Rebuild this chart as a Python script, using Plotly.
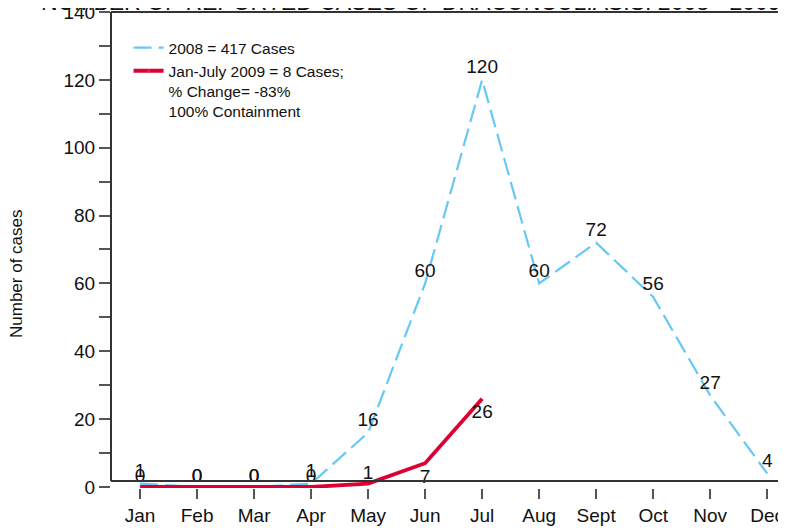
import plotly.graph_objects as go

months = ["Jan", "Feb", "Mar", "Apr", "May", "Jun", "Jul", "Aug", "Sept", "Oct", "Nov", "Dec"]
cases_2008 = [1, 0, 0, 1, 16, 60, 120, 60, 72, 56, 27, 4]
months_2009 = ["Jan", "Feb", "Mar", "Apr", "May", "Jun", "Jul"]
cases_2009 = [0, 0, 0, 0, 1, 7, 26]
pos_2009 = ["top center"] * 5 + ["bottom center"] * 2

name_2008 = "2008 = 417 Cases"
name_2009 = "Jan-July 2009 = 8 Cases;<br>% Change= -83%<br>100% Containment"
title = "NUMBER OF REPORTED CASES OF DRACUNCULIASIS: 2008 - 2009"

FONT = "Arial, Liberation Sans, sans-serif"
BLUE = "#66c8f5"
RED = "#dc0034"
AXIS = "#333333"

x08 = list(range(len(months)))
x09 = list(range(len(months_2009)))
# invisible marker sizes that push the value labels off the lines
pad_2008 = [0 if v == 0 else 1.5 for v in cases_2008]
pad_2009 = [7 if p.startswith("bottom") else 0 for p in pos_2009]

fig = go.Figure()
fig.add_trace(go.Scatter(
    x=x08, y=cases_2008, mode="lines+markers+text", name=name_2008,
    line=dict(color=BLUE, width=2.2, dash="18px,7px"),
    marker=dict(size=pad_2008, opacity=0, color=BLUE),
    text=[str(v) for v in cases_2008], textposition="top center",
    textfont=dict(size=19, color="#111111", family=FONT), cliponaxis=False))
fig.add_trace(go.Scatter(
    x=x09, y=cases_2009, mode="lines+markers+text", name=name_2009,
    line=dict(color=RED, width=3.8),
    marker=dict(size=pad_2009, opacity=0, color=RED),
    text=[str(v) for v in cases_2009], textposition=pos_2009,
    textfont=dict(size=19, color="#111111", family=FONT), cliponaxis=False))

AXLINE_Y = 1.8
fig.add_shape(type="line", xref="paper", yref="y", x0=0, x1=1, y0=AXLINE_Y, y1=AXLINE_Y,
              line=dict(color=AXIS, width=2))
fig.add_shape(type="line", xref="paper", yref="y", x0=0, x1=0, y0=AXLINE_Y, y1=140,
              line=dict(color=AXIS, width=2))
fig.add_shape(type="line", xref="paper", yref="paper", x0=0, x1=1, y0=1, y1=1,
              line=dict(color=AXIS, width=2))

fig.add_annotation(text=title, xref="paper", yref="paper", x=0.444, y=1, xanchor="center",
                   yanchor="bottom", yshift=-5, showarrow=False,
                   font=dict(size=23, color="#111111", family=FONT))
fig.add_annotation(text="Number of cases", xref="paper", yref="paper", x=0, xanchor="center",
                   xshift=-94, y=0.4496, yanchor="middle", textangle=-90, showarrow=False,
                   font=dict(size=17, color="#111111", family=FONT))

fig.update_layout(
    width=778, height=520,
    margin=dict(l=103, r=0, t=4, b=40, autoexpand=False),
    paper_bgcolor="white", plot_bgcolor="white",
    font=dict(family=FONT, color="#111111"),
    showlegend=True,
    legend=dict(x=0.026, y=0.96, xanchor="left", yanchor="top", valign="top",
                bgcolor="rgba(0,0,0,0)", font=dict(size=15.5, family=FONT),
                tracegroupgap=0),
    xaxis=dict(range=[-0.51, 11.33], tickvals=x08, ticktext=months, automargin=False,
               showline=False, showgrid=False, zeroline=False,
               ticks="outside", ticklen=10, tickwidth=1.5, tickcolor="#555555",
               tickfont=dict(size=19, family=FONT, color="#111111")),
    yaxis=dict(range=[-0.3, 140], dtick=20, tick0=0, ticklabeloverflow="allow",
               automargin=False,
               showline=False, showgrid=False, zeroline=False,
               ticks="outside", ticklen=11, tickwidth=1.5, tickcolor="#555555",
               minor=dict(dtick=10, tick0=0, ticks="outside", ticklen=11, tickwidth=1.5,
                          tickcolor="#555555", showgrid=False),
               tickfont=dict(size=19, family=FONT, color="#111111")),
)

fig.write_html("out.html")
